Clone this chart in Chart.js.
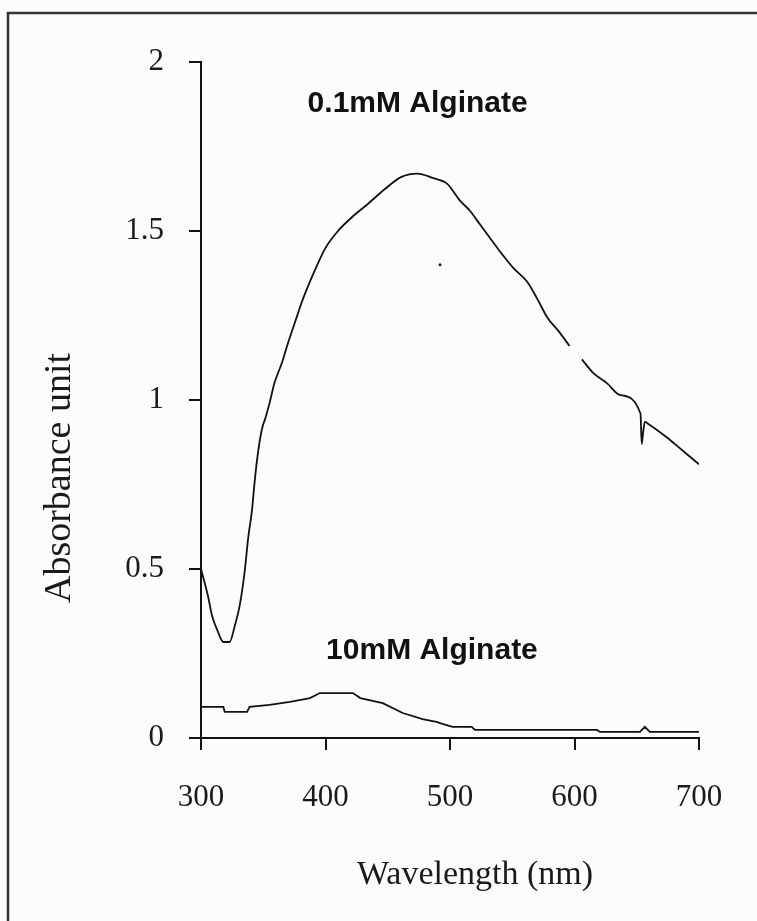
<!DOCTYPE html>
<html>
<head>
<meta charset="utf-8">
<title>Absorbance spectra</title>
<script src="https://cdn.jsdelivr.net/npm/chart.js@4.4.0/dist/chart.umd.min.js"></script>
<style>
  html, body { margin: 0; padding: 0; background: #fcfcfc; }
  #wrap { width: 757px; height: 921px; }
</style>
</head>
<body>
<div id="wrap"><canvas id="chart" width="757" height="921"></canvas></div>
<script>
// 0.1mM alginate spectrum (null = gap in the trace)
var wavelength1 = [300, 305.6, 309, 313, 318, 323, 327, 331, 335, 338, 341, 343, 346, 349, 352, 355,
  359, 365, 370, 375.5, 381, 387.5, 394, 400, 410, 421, 434, 448, 461, 474, 486, 497.6, 508, 516,
  524, 532, 540, 551, 562, 570, 578, 588, 596, 600, 606, 615, 626, 636.5, 653, 654, 655, 656.5,
  659, 674, 687, 700];
var absorbance1 = [0.50, 0.42, 0.36, 0.32, 0.284, 0.284, 0.33, 0.39, 0.49, 0.595, 0.675, 0.755, 0.85,
  0.915, 0.95, 0.99, 1.05, 1.11, 1.17, 1.23, 1.29, 1.35, 1.405, 1.45, 1.50, 1.54, 1.58, 1.625, 1.66,
  1.67, 1.657, 1.64, 1.59, 1.56, 1.52, 1.48, 1.44, 1.39, 1.35, 1.30, 1.245, 1.20, 1.16, null, 1.12,
  1.08, 1.05, 1.015, 0.96, 0.87, 0.90, 0.935, 0.93, 0.89, 0.85, 0.81];

// 10mM alginate spectrum
var wavelength2 = [300, 318, 319, 337, 339, 355, 371.5, 387.5, 395.5, 422, 428, 446, 462, 478, 490,
  492, 502, 517.5, 520, 618, 620.5, 652.5, 656.5, 660.5, 700];
var absorbance2 = [0.092, 0.092, 0.077, 0.077, 0.092, 0.098, 0.107, 0.118, 0.133, 0.133, 0.118, 0.103,
  0.074, 0.056, 0.047, 0.044, 0.033, 0.033, 0.024, 0.024, 0.018, 0.018, 0.033, 0.018, 0.018];

// stray speck in the scan
var speckWavelength = [492];
var speckAbsorbance = [1.40];

var xTicks = [300, 400, 500, 600, 700];
var yTicks = [0, 0.5, 1, 1.5, 2];
var seriesNames = ['0.1mM Alginate', '10mM Alginate'];
var labelWavelength = [474, 485.5];
var labelAbsorbance = [1.876, 0.257];
var xTitle = 'Wavelength (nm)';
var yTitle = 'Absorbance unit';

function toPoints(xs, ys) {
  var pts = [];
  for (var i = 0; i < xs.length; ++i) {
    pts.push({ x: xs[i], y: ys[i] });
  }
  return pts;
}

var serif = '"Liberation Serif", "Times New Roman", serif';
var ink = '#1a1a1a';

var decorPlugin = {
  id: 'decor',
  beforeDraw: function (chart) {
    var ctx = chart.ctx;
    ctx.save();
    ctx.fillStyle = '#fcfcfc';
    ctx.fillRect(0, 0, chart.width, chart.height);
    // frame round the figure
    ctx.strokeStyle = '#333';
    ctx.lineWidth = 2.5;
    ctx.beginPath();
    ctx.moveTo(8, chart.height);
    ctx.lineTo(8, 13);
    ctx.lineTo(chart.width, 13);
    ctx.stroke();
    ctx.restore();
  },
  afterDraw: function (chart) {
    var ctx = chart.ctx;
    var xs = chart.scales.x;
    var ys = chart.scales.y;
    ctx.save();
    ctx.fillStyle = ink;
    ctx.textAlign = 'center';
    ctx.textBaseline = 'middle';
    // x axis title
    ctx.font = '34px ' + serif;
    ctx.fillText(xTitle, 475, 875);
    // y axis title
    ctx.font = '38px ' + serif;
    ctx.translate(60, 478);
    ctx.rotate(-Math.PI / 2);
    ctx.fillText(yTitle, 0, 0);
    ctx.restore();
    // series labels
    ctx.save();
    ctx.fillStyle = '#111';
    ctx.font = 'bold 30px "Liberation Sans", Arial, sans-serif';
    ctx.textAlign = 'center';
    ctx.textBaseline = 'middle';
    for (var i = 0; i < seriesNames.length; ++i) {
      ctx.fillText(seriesNames[i], xs.getPixelForValue(labelWavelength[i]), ys.getPixelForValue(labelAbsorbance[i]));
    }
    ctx.restore();
  }
};

var ctx = document.getElementById('chart').getContext('2d');
new Chart(ctx, {
  type: 'line',
  data: {
    datasets: [
      {
        label: seriesNames[0],
        data: toPoints(wavelength1, absorbance1),
        borderColor: '#111',
        borderWidth: 1.8,
        pointRadius: 0,
        cubicInterpolationMode: 'monotone',
        spanGaps: false,
        fill: false,
      },
      {
        label: seriesNames[1],
        data: toPoints(wavelength2, absorbance2),
        borderColor: '#111',
        borderWidth: 1.8,
        pointRadius: 0,
        tension: 0,
        fill: false,
      },
      {
        label: 'speck',
        data: toPoints(speckWavelength, speckAbsorbance),
        showLine: false,
        pointRadius: 1.5,
        pointBackgroundColor: '#222',
        pointBorderWidth: 0,
      },
    ],
  },
  options: {
    responsive: false,
    animation: false,
    layout: {
      padding: { left: 0, right: 58, top: 62, bottom: 0 },
    },
    plugins: {
      legend: { display: false },
      tooltip: { enabled: false },
    },
    scales: {
      x: {
        type: 'linear',
        min: 300,
        max: 700,
        afterFit: function (scale) { scale.height = 183; },
        afterBuildTicks: function (scale) {
          scale.ticks = xTicks.map(function (v) { return { value: v }; });
        },
        grid: { drawOnChartArea: false, drawTicks: true, tickLength: 12, color: '#111', lineWidth: 2 },
        border: { display: true, color: '#111', width: 2 },
        ticks: {
          font: { family: serif, size: 31 },
          color: ink,
          padding: 29,
          maxRotation: 0,
          callback: function (v) { return String(v); },
        },
      },
      y: {
        type: 'linear',
        min: 0,
        max: 2,
        afterFit: function (scale) { scale.width = 201; },
        afterBuildTicks: function (scale) {
          scale.ticks = yTicks.map(function (v) { return { value: v }; });
        },
        grid: { drawOnChartArea: false, drawTicks: true, tickLength: 12, color: '#111', lineWidth: 2 },
        border: { display: true, color: '#111', width: 2 },
        ticks: {
          font: { family: serif, size: 31 },
          color: ink,
          padding: 25,
          callback: function (v) { return String(v); },
        },
      },
    },
  },
  plugins: [decorPlugin],
});
</script>
</body>
</html>
